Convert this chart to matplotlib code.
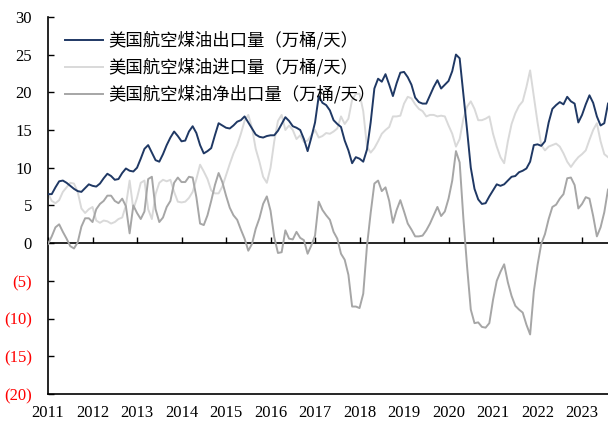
import numpy as np
import matplotlib
matplotlib.use("Agg")
import matplotlib.pyplot as plt
from matplotlib.ticker import FuncFormatter

# Monthly US jet fuel trade, 10k barrels/day, Jan 2011 - Aug 2023
start_year = 2011
exports = [
    6.5, 6.5, 7.4, 8.2, 8.3, 8.0, 7.6, 7.2, 6.9, 6.8, 7.3, 7.8,
    7.6, 7.5, 7.9, 8.6, 9.2, 8.9, 8.4, 8.5, 9.3, 9.9, 9.6, 9.5,
    10.0, 11.2, 12.5, 13.0, 12.0, 11.0, 10.8, 11.8, 13.0, 14.0, 14.8, 14.2,
    13.5, 13.6, 14.8, 15.5, 14.6, 13.0, 11.9, 12.2, 12.6, 14.3, 15.9, 15.6,
    15.3, 15.2, 15.6, 16.1, 16.3, 16.8, 16.0, 15.2, 14.4, 14.1, 14.0, 14.2,
    14.3, 14.3, 14.9, 15.8, 16.7, 16.2, 15.5, 15.3, 15.0, 13.8, 12.2, 14.0,
    16.0, 19.5, 18.6, 18.3, 17.6, 16.3, 15.8, 15.4, 13.6, 12.3, 10.6, 11.4,
    11.2, 10.8, 12.4, 16.0, 20.5, 21.8, 21.4, 22.4, 21.0, 19.5, 21.2, 22.6,
    22.7, 22.0, 21.0, 19.3, 18.7, 18.5, 18.5, 19.6, 20.7, 21.6, 20.5, 21.0,
    21.5, 22.8, 25.0, 24.5, 19.8, 15.0, 10.0, 7.2, 5.8, 5.2, 5.3, 6.2,
    7.0, 7.8, 7.6, 7.8, 8.3, 8.8, 8.9, 9.4, 9.6, 9.9, 10.8, 13.0,
    13.1, 12.9, 13.5, 16.0, 17.8, 18.3, 18.7, 18.4, 19.4, 18.8, 18.5, 16.0,
    17.0, 18.4, 19.6, 18.6, 16.8, 15.6, 15.9, 18.5,
]
imports = [
    6.6, 5.6, 5.3, 5.7, 6.8, 7.4, 8.0, 7.9, 6.8, 4.6, 4.0, 4.5,
    4.8, 3.0, 2.7, 3.0, 2.9, 2.6, 2.8, 3.2, 3.4, 5.0, 8.3, 4.5,
    6.0, 8.0, 8.3, 4.5, 3.2, 6.5, 8.0, 8.4, 8.2, 8.4, 6.8, 5.5,
    5.4, 5.5, 6.0, 6.8, 8.5, 10.4, 9.5, 8.5, 7.0, 6.6, 6.6, 7.5,
    9.0, 10.5, 11.9, 13.0, 14.5, 16.2, 17.0, 15.3, 12.5, 10.8, 8.8, 8.0,
    10.0, 13.5, 16.2, 17.0, 15.0, 15.6, 15.0, 13.8, 14.3, 13.4, 13.6, 14.3,
    15.0, 14.0, 14.2, 14.6, 14.5, 14.8, 15.2, 16.8, 15.8, 16.5, 19.0, 19.8,
    19.8, 17.5, 12.8, 12.0, 12.6, 13.5, 14.5, 15.0, 15.4, 16.8, 16.8, 16.9,
    18.5, 19.4, 19.2, 18.4, 17.8, 17.5, 16.8, 17.0, 17.0, 16.8, 16.9, 16.8,
    15.6, 14.5, 12.8, 13.8, 16.5, 18.1, 18.8, 17.8, 16.3, 16.3, 16.5, 16.8,
    14.5, 12.8, 11.4, 10.6, 13.5, 15.8, 17.2, 18.2, 18.8, 20.7, 22.9, 19.4,
    16.0, 13.0, 12.3, 12.8, 13.0, 13.2, 12.8, 11.9, 10.8, 10.1, 10.8, 11.4,
    11.8, 12.3, 13.7, 15.0, 15.9, 13.5, 11.8, 11.4,
]
year_ticks = list(range(2011, 2024))
value_ticks = [30, 25, 20, 15, 10, 5, 0, -5, -10, -15, -20]

series_names = [
    "美国航空煤油出口量（万桶/天）",
    "美国航空煤油进口量（万桶/天）",
    "美国航空煤油净出口量（万桶/天）",
]
series_colors = ["#1F3864", "#D9D9D9", "#A6A6A6"]

exp_arr = np.array(exports)
imp_arr = np.array(imports)
net_arr = exp_arr - imp_arr          # net exports = exports - imports
t = start_year + np.arange(len(exp_arr)) / 12.0

plt.rcParams["font.family"] = ["Liberation Serif", "DejaVu Serif"]

fig = plt.figure(figsize=(6.08, 4.21), dpi=100)
ax = fig.add_axes([0.079, 0.064, 0.921, 0.896])

ax.plot(t, exp_arr, color=series_colors[0], lw=1.4, zorder=4, label=series_names[0])
ax.plot(t, imp_arr, color=series_colors[1], lw=1.4, zorder=2, label=series_names[1])
ax.plot(t, net_arr, color=series_colors[2], lw=1.4, zorder=3, label=series_names[2])

ax.set_xlim(t[0], t[-1])
ax.set_ylim(-20, 30)

ax.spines["top"].set_visible(False)
ax.spines["right"].set_visible(False)
ax.spines["left"].set_linewidth(1.2)
ax.spines["bottom"].set_linewidth(1.2)

ax.set_yticks(value_ticks)
ax.yaxis.set_major_formatter(FuncFormatter(lambda v, p: f"({abs(int(v))})" if v < 0 else f"{int(v)}"))
ax.tick_params(axis="y", direction="in", length=4, width=1, labelsize=12, pad=11.5)
for lbl, v in zip(ax.get_yticklabels(), value_ticks):
    lbl.set_color("#FF0000" if v < 0 else "black")

ax.set_xticks(year_ticks)
ax.set_xticklabels([str(y) for y in year_ticks])
ax.tick_params(axis="x", length=0, labelsize=12, pad=8)

# zero line carrying the year tick marks
zero_axis = ax.secondary_xaxis((0 - (-20)) / 50.0)
zero_axis.set_xticks(year_ticks)
zero_axis.tick_params(axis="x", direction="in", length=4, width=1, labelbottom=False)
zero_axis.spines["bottom"].set_linewidth(1.2)

leg = ax.legend(loc="upper left", bbox_to_anchor=(0.03, 0.962), frameon=False,
                prop={"family": ["Noto Sans CJK SC", "DejaVu Sans"], "size": 12.5},
                handlelength=2.2, handletextpad=0.3, labelspacing=0.49,
                borderpad=0, borderaxespad=0)

fig.savefig("out.png", dpi=100)
